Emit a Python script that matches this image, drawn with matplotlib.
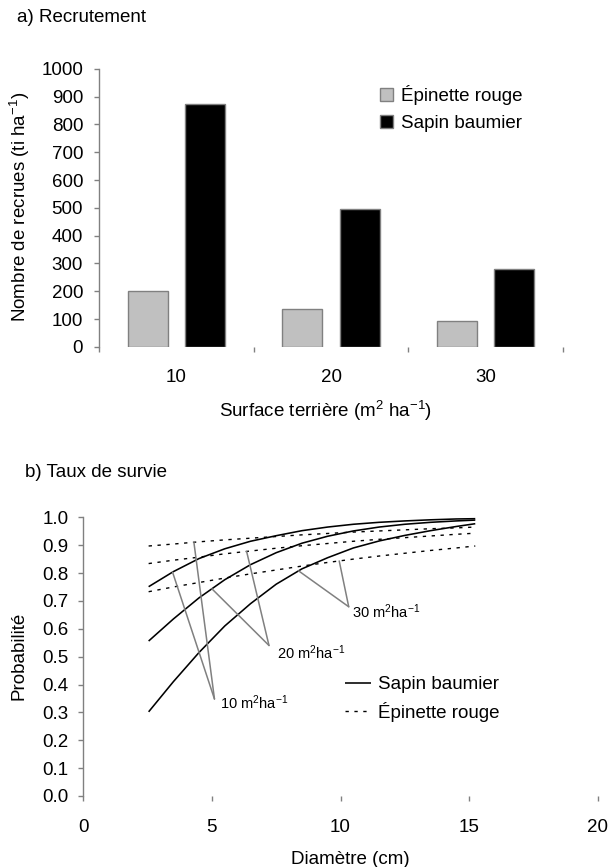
import matplotlib
matplotlib.use('Agg')
import matplotlib.pyplot as plt
import numpy as np

# ---------------- data ----------------
# Panel a: recruitment
surface_terriere = ['10', '20', '30']
epinette_recrues = [200, 137, 93]
sapin_recrues = [872, 495, 280]

# Panel b: survival probability vs diameter
diametre = [2.54, 3.5, 4.5, 5.5, 6.5, 7.5, 8.5, 9.5, 10.5, 11.5, 12.5, 13.5, 14.5, 15.24]
sapin_10 = [0.751, 0.805, 0.852, 0.887, 0.914, 0.934, 0.952, 0.965, 0.975, 0.982, 0.987, 0.991, 0.994, 0.995]
sapin_20 = [0.556, 0.635, 0.711, 0.776, 0.830, 0.873, 0.907, 0.932, 0.951, 0.965, 0.975, 0.982, 0.987, 0.990]
sapin_30 = [0.302, 0.410, 0.515, 0.610, 0.690, 0.760, 0.815, 0.855, 0.890, 0.915, 0.935, 0.952, 0.967, 0.977]
epinette_10 = [0.897, 0.904, 0.912, 0.919, 0.925, 0.931, 0.937, 0.942, 0.947, 0.951, 0.955, 0.959, 0.962, 0.965]
epinette_20 = [0.834, 0.846, 0.857, 0.869, 0.879, 0.889, 0.898, 0.906, 0.914, 0.921, 0.927, 0.933, 0.939, 0.943]
epinette_30 = [0.733, 0.750, 0.766, 0.782, 0.797, 0.811, 0.825, 0.838, 0.850, 0.861, 0.871, 0.881, 0.890, 0.897]
annot_labels = ['10 m$^{2}$ha$^{-1}$', '20 m$^{2}$ha$^{-1}$', '30 m$^{2}$ha$^{-1}$']

# ---------------- style ----------------
plt.rcParams['font.family'] = ['Liberation Sans', 'DejaVu Sans']
plt.rcParams['mathtext.fontset'] = 'custom'
plt.rcParams['mathtext.rm'] = 'Liberation Sans'
plt.rcParams['mathtext.it'] = 'Liberation Sans:italic'
plt.rcParams['mathtext.bf'] = 'Liberation Sans:bold'
plt.rcParams['mathtext.sf'] = 'Liberation Sans'

W, H, DPI = 608, 867, 100
FS = 13.5
GRAY = '#808080'

fig = plt.figure(figsize=(W / DPI, H / DPI), dpi=DPI)


def fx(px):
    return px / W


def fy(py):
    return 1 - py / H


# ---------------- panel a ----------------
axa = fig.add_axes([fx(99.3), fy(346.8), fx(562.7) - fx(99.3), fy(68.9) - fy(346.8)])
x = np.arange(len(surface_terriere))
bw, off = 0.259, 0.185
axa.bar(x - off, epinette_recrues, bw, color='#c0c0c0', edgecolor=GRAY, linewidth=1,
        label='Épinette rouge')
axa.bar(x + off, sapin_recrues, bw, color='black', edgecolor=GRAY, linewidth=1,
        label='Sapin baumier')
axa.set_xlim(-0.5, 2.5)
axa.set_ylim(0, 1000)
axa.set_yticks(np.arange(0, 1001, 100))
axa.set_xticks([-0.5, 0.5, 1.5, 2.5])
axa.set_xticklabels([])
axa.set_xticks(x, minor=True)
axa.set_xticklabels(surface_terriere, minor=True)
axa.tick_params(axis='x', which='minor', length=0, pad=16, labelsize=FS)
axa.tick_params(axis='x', which='major', length=3.6, width=1, color=GRAY, direction='out')
axa.tick_params(axis='y', length=3.6, width=1, color=GRAY, pad=8, labelsize=FS)
for s in ['top', 'right', 'bottom']:
    axa.spines[s].set_visible(False)
axa.spines['left'].set_color(GRAY)
axa.spines['left'].set_linewidth(1)

axa.set_ylabel('Nombre de recrues (ti ha$^{-1}$)', fontsize=FS)
axa.yaxis.set_label_coords(fx(20), fy(207), transform=fig.transFigure)
axa.yaxis.label.set_va('center')
axa.set_xlabel('Surface terrière (m$^{2}$ ha$^{-1}$)', fontsize=FS)
axa.xaxis.set_label_coords(fx(326), fy(411), transform=fig.transFigure)
axa.xaxis.label.set_va('center')

axa.legend(loc='upper left', bbox_to_anchor=(fx(380), fy(85)), bbox_transform=fig.transFigure,
           frameon=False, fontsize=FS, handlelength=0.7, handleheight=0.7,
           handletextpad=0.4, labelspacing=0.55, borderaxespad=0, borderpad=0)

fig.text(fx(17), fy(17), 'a) Recrutement', ha='left', va='center', fontsize=FS)

# ---------------- panel b ----------------
axb = fig.add_axes([fx(83.3), fy(796), fx(597.7) - fx(83.3), fy(517.3) - fy(796)])
solid_kw = dict(color='black', lw=1.15, solid_capstyle='butt', solid_joinstyle='round')
dash_kw = dict(color='black', lw=1.0, linestyle=(0, (2.4, 4.0)))
l1, = axb.plot(diametre, sapin_10, **solid_kw)
axb.plot(diametre, sapin_20, **solid_kw)
axb.plot(diametre, sapin_30, **solid_kw)
l2, = axb.plot(diametre, epinette_10, **dash_kw)
axb.plot(diametre, epinette_20, **dash_kw)
axb.plot(diametre, epinette_30, **dash_kw)

# leader lines for the annotations
annot = [
    # (curve_sapin, x_on_sapin, curve_epinette, x_on_epinette, meet point, text point)
    (sapin_10, 3.47, epinette_10, 4.30, (5.10, 0.348), (5.30, 0.333)),
    (sapin_20, 5.00, epinette_20, 6.35, (7.22, 0.540), (7.55, 0.514)),
    (sapin_30, 8.37, epinette_30, 9.95, (10.32, 0.679), (10.45, 0.661)),
]
for lab, (cs, xs, ce, xe, meet, tpos) in zip(annot_labels, annot):
    for cv, xv in ((cs, xs), (ce, xe)):
        yv = float(np.interp(xv, diametre, cv))
        axb.annotate('', xy=(xv, yv), xytext=meet,
                     arrowprops=dict(arrowstyle='-', color=GRAY, lw=1.1,
                                     shrinkA=0, shrinkB=0))
    axb.text(tpos[0], tpos[1], lab, ha='left', va='center', fontsize=10.5)

axb.set_xlim(0, 20)
axb.set_ylim(0, 1)
axb.set_xticks([0, 5, 10, 15, 20])
axb.set_yticks(np.round(np.arange(0, 1.01, 0.1), 1))
axb.set_yticklabels(['%.1f' % v for v in np.arange(0, 1.01, 0.1)])
axb.tick_params(axis='x', length=3.6, width=1, color=GRAY, pad=13, labelsize=FS)
axb.tick_params(axis='y', length=3.6, width=1, color=GRAY, pad=7, labelsize=FS)
for s in ['top', 'right', 'bottom']:
    axb.spines[s].set_visible(False)
axb.spines['left'].set_color(GRAY)
axb.spines['left'].set_linewidth(1)

axb.set_ylabel('Probabilité', fontsize=FS)
axb.yaxis.set_label_coords(fx(19), fy(656), transform=fig.transFigure)
axb.yaxis.label.set_va('center')
axb.set_xlabel('Diamètre (cm)', fontsize=FS)
axb.xaxis.set_label_coords(fx(350), fy(859), transform=fig.transFigure)
axb.xaxis.label.set_va('center')

axb.legend([l1, l2], ['Sapin baumier', 'Épinette rouge'], loc='upper left',
           bbox_to_anchor=(fx(345), fy(676)), bbox_transform=fig.transFigure,
           frameon=False, fontsize=FS, handlelength=1.4, handletextpad=0.35,
           labelspacing=0.45, borderaxespad=0, borderpad=0)

fig.text(fx(25), fy(472), 'b) Taux de survie', ha='left', va='center', fontsize=FS)

fig.savefig('out.png', dpi=DPI)
